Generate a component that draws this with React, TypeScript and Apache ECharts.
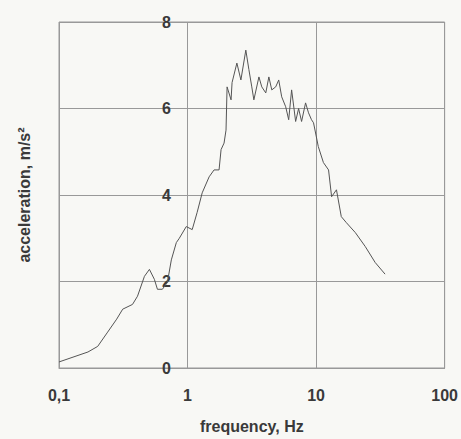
import React, { useEffect, useRef } from "react";
import * as echarts from "echarts";

const frequency = [
  0.1, 0.168, 0.2, 0.239, 0.281, 0.313, 0.373, 0.408, 0.462, 0.505, 0.552, 0.583, 0.637, 0.697,
  0.748, 0.818, 0.863, 0.977, 1.087, 1.188, 1.3, 1.472, 1.608, 1.758, 1.823, 1.923, 1.992, 2.03,
  2.18, 2.22, 2.42, 2.6, 2.84, 3.0, 3.16, 3.28, 3.59, 3.78, 4.06, 4.29, 4.52, 4.85, 5.12, 5.4,
  5.8, 6.12, 6.45, 6.93, 7.31, 7.71, 8.28, 8.73, 9.21, 9.55, 10.4, 11.4, 12.5, 13.2, 14.4, 15.7,
  17.2, 20.2, 24.1, 28.8, 34.4,
];
const acceleration = [
  0.14, 0.37, 0.5, 0.83, 1.13, 1.36, 1.47, 1.66, 2.12, 2.28, 2.05, 1.82, 1.82, 1.98,
  2.5, 2.9, 3.0, 3.27, 3.2, 3.6, 4.05, 4.42, 4.58, 4.58, 5.05, 5.2, 5.5, 6.5,
  6.2, 6.6, 7.05, 6.66, 7.35, 6.9, 6.5, 6.2, 6.73, 6.5, 6.36, 6.73, 6.43, 6.5, 6.66, 6.27,
  6.04, 5.74, 6.43, 5.7, 6.0, 5.7, 6.13, 5.9, 5.74, 5.67, 5.12, 4.75, 4.58, 3.96, 4.12, 3.5,
  3.36, 3.13, 2.81, 2.44, 2.17,
];
const yTicks = [0, 2, 4, 6, 8];
const xTicks = [0.1, 1, 10, 100];

export default function App() {
  const ref = useRef<HTMLDivElement>(null);
  useEffect(() => {
    if (!ref.current) return;
    const chart = echarts.init(ref.current, null, { renderer: "svg" });
    const fontFamily = "Liberation Sans, Arial, sans-serif";
    const textColor = "#3a3a3a";
    chart.setOption({
      animation: false,
      backgroundColor: "#f8f8f5",
      grid: {
        left: 59,
        right: 14,
        top: 22,
        bottom: 70,
        show: true,
        borderColor: "#999",
        borderWidth: 1,
        containLabel: false,
      },
      xAxis: {
        type: "log",
        logBase: 10,
        min: xTicks[0],
        max: xTicks[xTicks.length - 1],
        name: "frequency, Hz",
        nameLocation: "middle",
        nameGap: 50,
        nameTextStyle: { fontFamily, fontWeight: "bold", fontSize: 16, color: textColor },
        axisLine: { show: true, lineStyle: { color: "#999" } },
        axisTick: { show: false },
        axisLabel: {
          margin: 19,
          fontFamily,
          fontWeight: "bold",
          fontSize: 16,
          color: textColor,
          formatter: (v: number) => String(Math.round(v * 10) / 10).replace(".", ","),
        },
        splitLine: { show: true, lineStyle: { color: "#999", width: 1 } },
        minorSplitLine: { show: false },
      },
      yAxis: {
        type: "value",
        min: yTicks[0],
        max: yTicks[yTicks.length - 1],
        interval: 2,
        offset: -128,
        name: "acceleration, m/s²",
        nameLocation: "middle",
        nameGap: 155,
        nameRotate: 90,
        nameTextStyle: { fontFamily, fontWeight: "bold", fontSize: 16, color: textColor },
        axisLine: { show: false },
        axisTick: { show: false },
        axisLabel: {
          margin: 16,
          fontFamily,
          fontWeight: "bold",
          fontSize: 16,
          color: textColor,
        },
        splitLine: { show: true, lineStyle: { color: "#999", width: 1 } },
      },
      series: [
        {
          type: "line",
          data: frequency.map((f, i) => [f, acceleration[i]]),
          showSymbol: false,
          symbol: "none",
          lineStyle: { color: "#555", width: 1 },
        },
      ],
    });
    return () => chart.dispose();
  }, []);
  return (
    <div
      ref={ref}
      style={{ position: "fixed", left: 0, top: 0, width: 461, height: 439 }}
    />
  );
}
